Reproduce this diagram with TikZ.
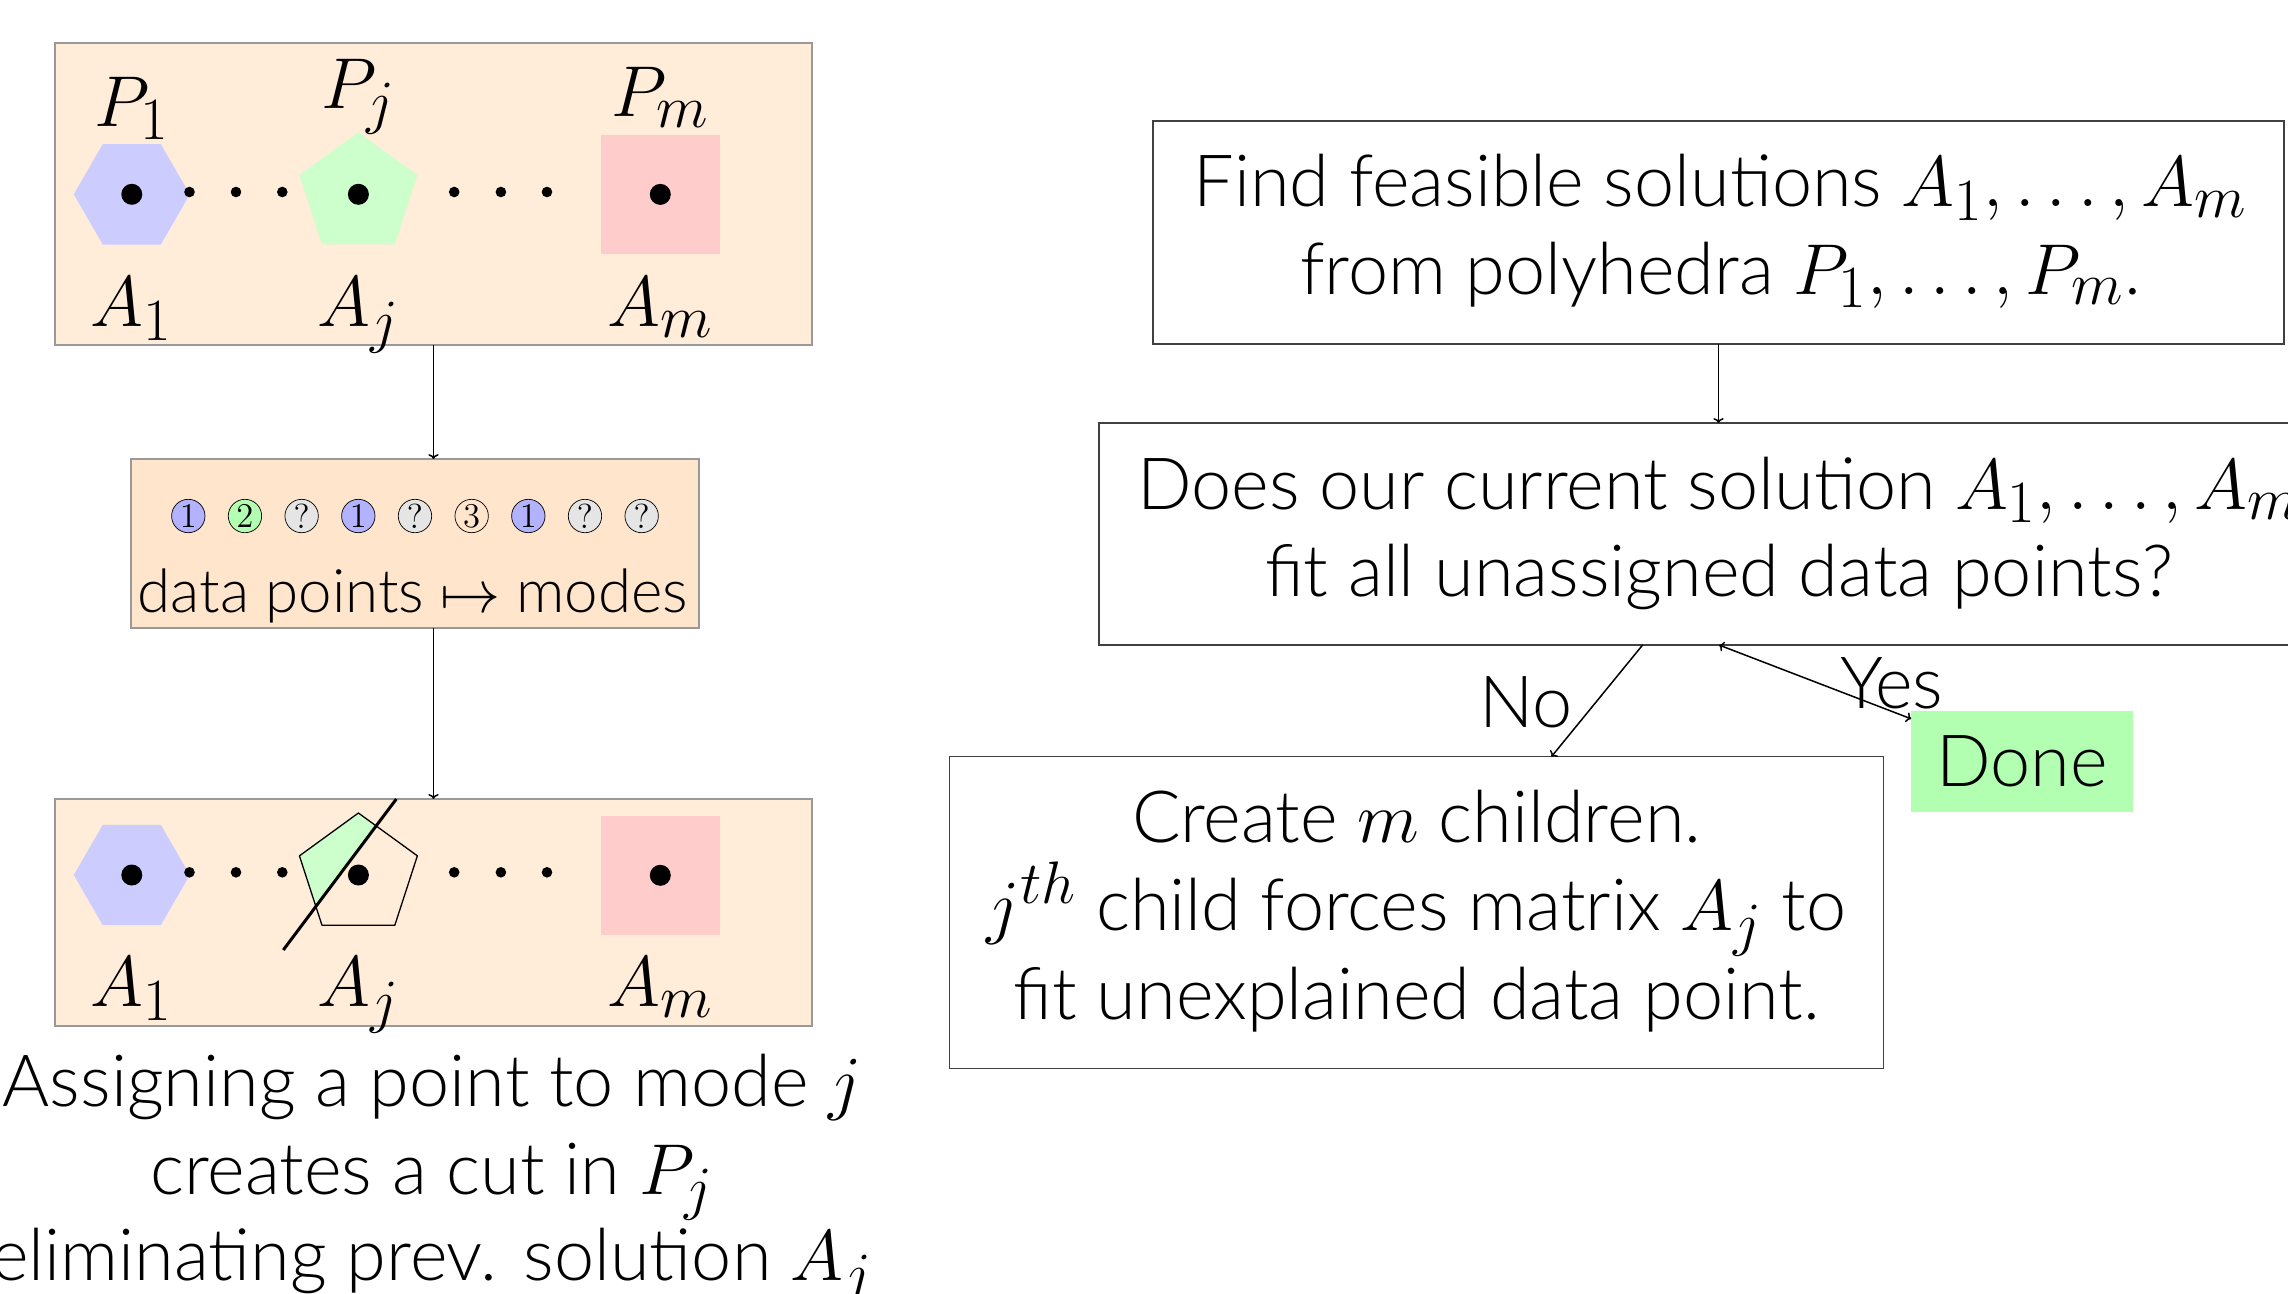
\documentclass[tikz,border=0pt]{standalone}
\usepackage[no-math]{fontspec}
\IfFontExistsTF{Lato Light}{\setmainfont{Lato Light}}{\setmainfont{Lato}}
\usetikzlibrary{shapes.geometric,arrows.meta,calc}

\begin{document}
\begin{tikzpicture}[x=1pt,y=-1pt,
  every node/.style={inner sep=0pt,outer sep=0pt},
  txt/.style={font=\fontsize{24.88}{30}\selectfont,scale=2.8939,anchor=base},
  smalltxt/.style={font=\fontsize{20.74}{25}\selectfont,scale=2.8939,anchor=base},
  panel/.style={rectangle,draw=black!40,line width=2pt,fill=orange!15},
  flowbox/.style={rectangle,draw=black!75,line width=1.5pt},
  hexa/.style={regular polygon,regular polygon sides=6,minimum size=116pt,fill=blue!20},
  penta/.style={regular polygon,regular polygon sides=5,minimum size=124pt},
  sq/.style={rectangle,minimum size=118.6pt,fill=red!20},
  dpt/.style={circle,draw=black,line width=0.7pt,minimum size=11.54pt,scale=2.8939,font=\fontsize{12}{14}\selectfont},
  arr/.style={->,line width=1.5pt},
]
\clip (0,0) rectangle (2288,1293);

% ---------- left column ----------
\node[panel,minimum width=757pt,minimum height=302pt] (top) at (433.5,194.3) {};
\node[panel,fill=orange!20,minimum width=568pt,minimum height=169.3pt] (mid) at (414.5,543.7) {};
\node[panel,minimum width=757pt,minimum height=226.7pt] (bot) at (433.5,912.3) {};

% polyhedra before the cut
\node[hexa] (h1) at (131.8,194.3) {};
\node[penta,fill=green!20] (p1) at (358.4,194.3) {};
\node[sq] (s1) at (660.3,194.4) {};
\foreach \c in {h1,p1,s1} \fill (\c.center) circle (10.5);
\foreach \x in {189.5,236,282.3,454.2,500.9,547} \fill (\x,192) circle (5.3);
\node[txt] (lp1) at (131.8,126) {$P_1$};
\node[txt] (lpj) at (358.4,108.3) {$P_j$};
\node[txt] (lpm) at (660.3,116.7) {$P_m$};
\node[txt] (la1) at (131.8,326.7) {$A_1$};
\node[txt] (laj) at (358.4,326.7) {$A_j$};
\node[txt] (lam) at (660.3,326.7) {$A_m$};

% data points and their modes
\foreach \n/\lab/\col in {1/1/blue!30,2/2/green!30,3/?/gray!20,4/1/blue!30,5/?/gray!20,6/3/none,7/1/blue!30,8/?/gray!20,9/?/gray!20}
  \node[dpt,fill=\col] (d\n) at ({188.3+56.67*(\n-1)},516) {$\lab$};
\node[smalltxt] (dm) at (413,612) {data points $\mapsto$ modes};

% polyhedra after the cut
\node[hexa] (h2) at (131.8,875) {};
\node[penta] (p2) at (358.4,875) {};
\node[sq] (s2) at (660.3,875.3) {};
\begin{scope}
  \clip (p2.corner 1) -- (p2.corner 2) -- (p2.corner 3) -- (p2.corner 4) -- (p2.corner 5) -- cycle;
  \fill[green!20] (283.3,950) -- (396.3,799) -- (250,790) -- (250,960) -- cycle;
\end{scope}
\draw[line width=1.3pt,line join=round] (p2.corner 1) -- (p2.corner 2) -- (p2.corner 3) -- (p2.corner 4) -- (p2.corner 5) -- cycle;
\draw[line width=3pt] (283.3,950) -- (396.3,799);
\foreach \c in {h2,p2,s2} \fill (\c.center) circle (10.5);
\foreach \x in {189.5,236,282.3,454.2,500.9,547} \fill (\x,872.3) circle (5.3);
\node[txt] (lb1) at (131.8,1006.7) {$A_1$};
\node[txt] (lbj) at (358.4,1006.7) {$A_j$};
\node[txt] (lbm) at (660.3,1006.7) {$A_m$};

\draw[arr] (top.south) -- (top.south |- mid.north);
\draw[arr] (bot.north |- mid.south) -- (bot.north);

\node[txt] (cap1) at (432,1106.7) {Assigning a point to mode $j$};
\node[txt] (cap2) at (432,1194.3) {creates a cut in $P_j$};
\node[txt] (cap3) at (432,1280) {eliminating prev. solution $A_j$};

% ---------- right column: flow ----------
\node[flowbox,minimum width=1131pt,minimum height=223pt] (find) at (1718.5,232.5) {};
\node[txt] (find1) at (1720.5,206.7) {Find feasible solutions $A_1,\ldots,A_m$};
\node[txt] (find2) at (1720.5,294) {from polyhedra $P_1,\ldots,P_m$.};

\node[flowbox,minimum width=1240pt,minimum height=222pt] (ask) at (1719,534) {};
\node[txt] (ask1) at (1719,509) {Does our current solution $A_1,\ldots,A_m$};
\node[txt] (ask2) at (1719,596) {fit all unassigned data points?};

\node[flowbox,minimum width=934pt,minimum height=311.6pt] (create) at (1416.7,912.5) {};
\node[txt] (cr1) at (1416.7,842.7) {Create $m$ children.};
\node[txt] (cr2) at (1416.7,930) {$j^{th}$ child forces matrix $A_j$ to};
\node[txt] (cr3) at (1416.7,1019) {fit unexplained data point.};

\node[fill=green!30,minimum width=221.7pt,minimum height=100.7pt] (done) at (2022,761.3) {};
\node[txt] (donetxt) at (2022,786.7) {Done};

\draw[arr] (find.south) -- (find.south |- ask.north);
\draw[arr] ($(ask.south)+(-76.4,0)$) -- ($(create.north)+(134.7,0)$);
\draw[<->,line width=1.5pt] (ask.south) -- (done);
\node[txt] (no) at (1526,727.3) {No};
\node[txt] (yes) at (1891.7,708.3) {Yes};
\end{tikzpicture}
\end{document}
